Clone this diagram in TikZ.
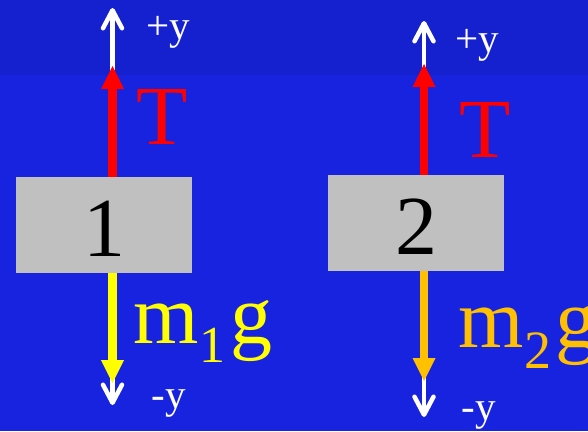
\documentclass[tikz,border=0pt]{standalone}
\usepackage{fontspec}
\setmainfont{Liberation Serif}
\usetikzlibrary{arrows.meta}
\definecolor{bgtop}{RGB}{21,32,206}
\definecolor{bgbot}{RGB}{24,35,224}
\definecolor{boxgrey}{RGB}{192,192,192}
\definecolor{forcered}{RGB}{255,0,0}
\definecolor{forceyellow}{RGB}{255,255,0}
\definecolor{forceorange}{RGB}{255,192,0}
\tikzset{
  blockbox/.style={fill=boxgrey, draw=none, minimum width=176pt, minimum height=96pt, inner sep=0pt},
  numtext/.style={inner sep=0pt, anchor=base, font=\fontsize{84}{84}\selectfont},
  bigtext/.style={inner sep=0pt, anchor=base west, font=\fontsize{84}{84}\selectfont},
  axistext/.style={inner sep=0pt, anchor=base west, text=white, font=\fontsize{41}{41}\selectfont},
  axisarrow/.style={draw=white, line width=4.5pt, -{Straight Barb[length=18pt, width=19pt, round]}},
  forcearrow/.style={line width=8.5pt, -{Triangle[length=23pt, width=23pt, line width=0pt]}},
}
\begin{document}
\begin{tikzpicture}[x=1pt, y=-1pt]
  % background
  \fill[bgbot] (0,0) rectangle (588,431);
  \fill[bgtop] (0,0) rectangle (588,75);
  \useasboundingbox (0,0) rectangle (588,431);

  % blocks
  \node[blockbox] (b1) at (104,225) {};
  \node[blockbox] (b2) at (416,223) {};
  \node[numtext] (n1) at (104.5,256) {1};
  \node[numtext] (n2) at (416,254) {2};

  % column coordinates
  \coordinate (t1) at (112.5,66);
  \coordinate (u1) at (112.5,8);
  \coordinate (w1) at (112.5,383);
  \coordinate (d1) at (112.5,405);
  \coordinate (t2) at (424,64);
  \coordinate (u2) at (424,21);
  \coordinate (w2) at (424,381);
  \coordinate (d2) at (424,417);

  % axis arrows (behind)
  \draw[axisarrow] (b1.north -| u1) -- (u1);
  \draw[axisarrow] (b1.south -| d1) -- (d1);
  \draw[axisarrow] (b2.north -| u2) -- (u2);
  \draw[axisarrow] (b2.south -| d2) -- (d2);

  % force arrows
  \draw[forcearrow, draw=forcered, fill=forcered] (b1.north -| t1) -- (t1);
  \draw[forcearrow, draw=forceyellow, fill=forceyellow] (b1.south -| w1) -- (w1);
  \draw[forcearrow, draw=forcered, fill=forcered] (b2.north -| t2) -- (t2);
  \draw[forcearrow, draw=forceorange, fill=forceorange] (b2.south -| w2) -- (w2);

  % labels
  \node[bigtext, text=forcered] (T1) at (136.5,144) {T};
  \node[bigtext, text=forcered] (T2) at (459.5,157) {T};
  \node[bigtext, text=forceyellow] (g1) at (133.5,343) {m\raisebox{-19pt}{\fontsize{52}{52}\selectfont 1}\kern5pt g};
  \node[bigtext, text=forceorange] (g2) at (458.5,347) {m\raisebox{-21pt}{\fontsize{54}{54}\selectfont 2}\kern4pt g};
  \node[axistext] (py1) at (146,39) {+y};
  \node[axistext] (py2) at (455,52) {+y};
  \node[axistext] (my1) at (151.5,408) {-y};
  \node[axistext] (my2) at (461.5,420) {-y};
\end{tikzpicture}
\end{document}
